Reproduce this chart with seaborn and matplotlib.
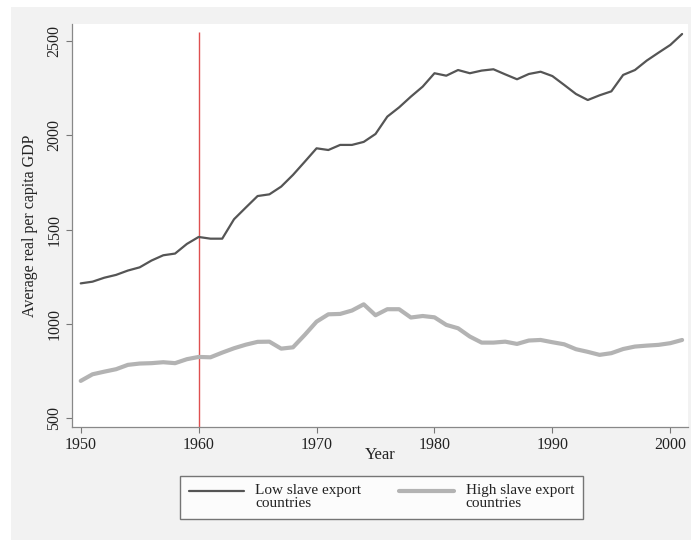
"""
Average real per capita GDP, low vs high slave export countries
"""

import numpy as np
import pandas as pd
import matplotlib
matplotlib.use("Agg")
import matplotlib.pyplot as plt
from matplotlib.lines import Line2D
from matplotlib.patches import Rectangle
import seaborn as sns

years = list(range(1950, 2002))

low_export = [
    1215, 1224, 1245, 1260, 1283, 1300, 1336, 1364, 1373, 1424,
    1461, 1452, 1452, 1555, 1617, 1678, 1687, 1728, 1790, 1860,
    1931, 1922, 1949, 1949, 1965, 2007, 2099, 2148, 2205, 2258,
    2329, 2316, 2346, 2329, 2343, 2350, 2323, 2297, 2325, 2337,
    2314, 2267, 2219, 2187, 2212, 2233, 2320, 2346, 2396, 2438,
    2479, 2537,
]

high_export = [
    698, 733, 747, 760, 783, 790, 792, 797, 792, 813,
    825, 823, 848, 871, 890, 905, 906, 869, 876, 942,
    1012, 1051, 1053, 1071, 1104, 1046, 1078, 1078, 1034, 1042,
    1035, 995, 977, 933, 901, 901, 906, 894, 912, 915,
    903, 892, 866, 852, 836, 845, 867, 880, 885, 889,
    898, 915,
]

group_labels = ["Low slave export\ncountries", "High slave export\ncountries"]
x_ticks = [1950, 1960, 1970, 1980, 1990, 2000]
y_ticks = [500, 1000, 1500, 2000, 2500]
cutoff_year = 1960

# Long-form table for seaborn
df = pd.DataFrame({
    "Year": years * 2,
    "GDP": low_export + high_export,
    "group": [group_labels[0]] * len(years) + [group_labels[1]] * len(years),
})

sns.set_style("white")
plt.rcParams["font.family"] = ["Liberation Serif", "DejaVu Serif"]

fig = plt.figure(figsize=(6.91, 5.4), dpi=100, facecolor="white")
# grey panel behind everything (Stata-like)
fig.patches.append(Rectangle((11 / 691, 0), 1, 1 - 7 / 540, transform=fig.transFigure,
                             facecolor="#f2f2f2", edgecolor="none", zorder=-10))
ax = fig.add_axes([72 / 691, 1 - 427.3 / 540, (688 - 72) / 691, (427.3 - 24) / 540])
ax.set_facecolor("white")

colors = {group_labels[0]: "#555555", group_labels[1]: "#b3b3b3"}
widths = {group_labels[0]: 1.6, group_labels[1]: 3.0}

sns.lineplot(data=df, x="Year", y="GDP", hue="group", size="group",
             palette=colors, sizes=widths, ax=ax, legend=False)

ax.set_xlim(1949.26, 2001.5)
ax.set_ylim(452, 2590)
ax.vlines(cutoff_year, 452, 2550, color="#df5050", linewidth=1.0, zorder=1)

ax.set_xticks(x_ticks)
ax.set_yticks(y_ticks)
ax.tick_params(axis="both", direction="out", length=4, width=0.8,
               bottom=True, left=True,
               color="#777777", labelsize=11.5, labelcolor="#222222", pad=3)
plt.setp(ax.get_yticklabels(), rotation=90, va="center")

for side in ["top", "right"]:
    ax.spines[side].set_visible(False)
for side in ["left", "bottom"]:
    ax.spines[side].set_color("#888888")
    ax.spines[side].set_linewidth(0.9)

ax.set_xlabel("Year", fontsize=12, color="#222222", labelpad=-4)
ax.set_ylabel("Average real per capita GDP", fontsize=11.5, color="#222222", labelpad=6)

handles = [Line2D([], [], color=colors[g], linewidth=widths[g]) for g in group_labels]
leg = fig.legend(handles, group_labels, loc="upper center", ncol=2,
                 bbox_to_anchor=(0.552, 1 - 476 / 540), borderaxespad=0,
                 fontsize=11, frameon=True, fancybox=False, handlelength=3.6,
                 columnspacing=2.5, handletextpad=0.75, borderpad=0.55,
                 labelspacing=0.2)
leg.get_frame().set_edgecolor("#555555")
leg.get_frame().set_linewidth(1.0)
leg.get_frame().set_facecolor("white")
for t in leg.get_texts():
    t.set_linespacing(1.0)
    t.set_color("#222222")
# line up the handles with the first line of each label
for h in leg.legend_handles:
    h.set_ydata(np.asarray(h.get_ydata()) + 4.5)

fig.savefig("out.png", dpi=100, facecolor=fig.get_facecolor())
